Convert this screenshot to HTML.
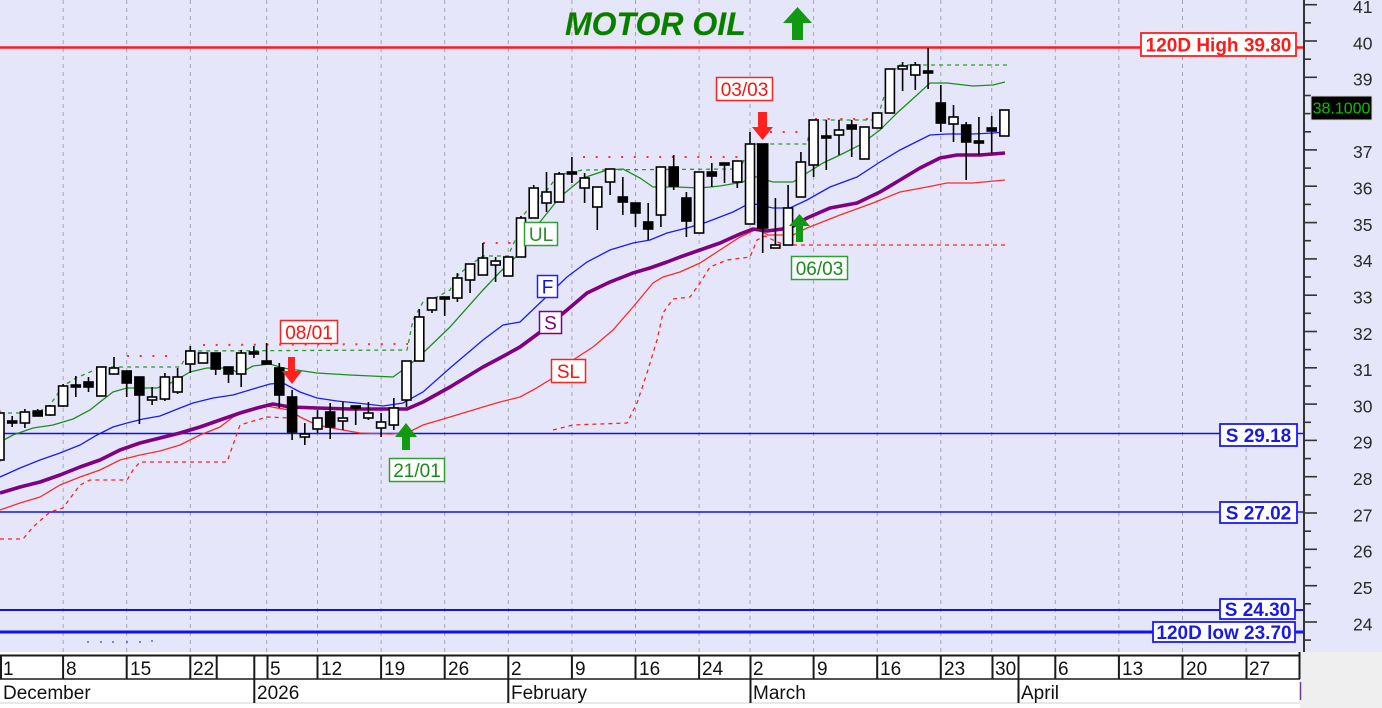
<!DOCTYPE html>
<html><head><meta charset="utf-8"><style>
html,body{margin:0;padding:0;background:#fff;}
body{width:1382px;height:708px;overflow:hidden;}
svg{display:block;font-family:"Liberation Sans",Arial,sans-serif;}
.w{fill:#fff;stroke:#000;stroke-width:1.6}
.b{fill:#000;stroke:#000;stroke-width:1.6}
.k{stroke:#000;stroke-width:1.6}
</style></head><body>
<svg width="1382" height="708" viewBox="0 0 1382 708" xmlns="http://www.w3.org/2000/svg">
<rect x="0" y="0" width="1382" height="652" fill="#E6E6FA"/>
<rect x="0" y="652" width="1300" height="56" fill="#fff"/>
<rect x="1300" y="652" width="82" height="56" fill="#EFEFEF"/>

<!-- vertical grid -->
<g stroke="#A5A5B0" stroke-width="1" stroke-dasharray="4,4">
<line x1="63.1" y1="0" x2="63.1" y2="652"/><line x1="126.7" y1="0" x2="126.7" y2="652"/><line x1="190.3" y1="0" x2="190.3" y2="652"/><line x1="266.6" y1="0" x2="266.6" y2="652"/><line x1="317.5" y1="0" x2="317.5" y2="652"/><line x1="381.1" y1="0" x2="381.1" y2="652"/><line x1="444.7" y1="0" x2="444.7" y2="652"/><line x1="508.3" y1="0" x2="508.3" y2="652"/><line x1="571.9" y1="0" x2="571.9" y2="652"/><line x1="635.5" y1="0" x2="635.5" y2="652"/><line x1="699.1" y1="0" x2="699.1" y2="652"/><line x1="750" y1="0" x2="750" y2="652"/><line x1="813.6" y1="0" x2="813.6" y2="652"/><line x1="877.2" y1="0" x2="877.2" y2="652"/><line x1="940.8" y1="0" x2="940.8" y2="652"/><line x1="991.7" y1="0" x2="991.7" y2="652"/><line x1="1055.3" y1="0" x2="1055.3" y2="652"/><line x1="1118.9" y1="0" x2="1118.9" y2="652"/><line x1="1182.5" y1="0" x2="1182.5" y2="652"/><line x1="1246.1" y1="0" x2="1246.1" y2="652"/>
</g>

<!-- horizontal level lines -->
<line x1="0" y1="47.5" x2="1304" y2="47.5" stroke="#FF1A1A" stroke-width="2.5"/>
<line x1="0" y1="433.5" x2="1304" y2="433.5" stroke="#1010F0" stroke-width="1.5"/>
<line x1="0" y1="512" x2="1304" y2="512" stroke="#1010F0" stroke-width="1.5"/>
<line x1="0" y1="610" x2="1304" y2="610" stroke="#1010F0" stroke-width="2"/>
<line x1="0" y1="632" x2="1304" y2="632" stroke="#1010F0" stroke-width="3"/>
<g fill="#3030FF"><circle cx="88" cy="642" r="0.9"/><circle cx="101" cy="642" r="0.9"/><circle cx="113" cy="642" r="0.9"/><circle cx="127" cy="642" r="0.9"/><circle cx="140" cy="642" r="0.9"/><circle cx="152" cy="641" r="0.9"/></g>

<!-- red dashed trailing -->
<g fill="none" stroke="#FF2020" stroke-width="1.3" stroke-dasharray="4,4">
<polyline points="0,539 23,539 33,527 50,512 63,508 80,485 90,480 127,480 133,470 140,462 227,462 240,425 267,417 290,418"/>
<polyline points="553,430 573,425 627,423 637,403 647,373 657,340 663,313 673,299 690,297 700,283 710,267 727,260 750,257 757,240 765,236 775,241 785,245 1007,245"/>
</g>
<!-- red dotted resistance -->
<g fill="none" stroke="#FF3030" stroke-width="2" stroke-dasharray="2,10.7">
<line x1="127" y1="356" x2="178" y2="356"/>
<line x1="203" y1="345" x2="408" y2="344"/>
<line x1="483" y1="243" x2="511" y2="243"/>
<line x1="583" y1="157" x2="741" y2="157"/>
<line x1="770" y1="132" x2="801" y2="132"/>
<line x1="815" y1="119" x2="874" y2="119"/>
</g>
<!-- green dashed upper -->
<polyline fill="none" stroke="#2A9A2A" stroke-width="1.3" stroke-dasharray="4,4" points="0,413 37,413 50,405 63,386 76,378 90,372 101,367 180,367 190,351 407,350 413,320 423,302 437,297 450,290 457,276 470,265 483,256 508,256 517,236 522,217 533,203 547,190 557,177 567,173 583,170 740,169 747,153 752,144 807,144 812,120 873,120 880,110 886,90 892,72 900,65 1007,65"/>

<!-- SL red -->
<polyline fill="none" stroke="#FF2A2A" stroke-width="1.3" points="0,510 20,503 40,497 60,485 80,477 100,470 120,460 140,455 160,451 180,445 200,435 220,427 233,417 247,410 267,406 277,408 290,410 300,417 317,425 337,429 360,433 390,434 407,433 423,425 450,417 483,407 500,402 520,397 533,390 553,378 573,360 593,347 613,330 633,307 653,283 663,277 680,272 700,263 720,250 740,237 757,229 768,235 793,235 807,228 840,215 873,203 900,192 927,187 947,183 973,183 1005,180"/>
<!-- S purple -->
<polyline fill="none" stroke="#800080" stroke-width="3.6" stroke-linejoin="round" points="0,493 20,487 40,482 60,475 80,467 100,460 120,450 140,443 160,438 180,433 200,427 220,420 240,413 257,408 273,404 290,407 317,408 350,409 407,409 423,402 450,387 483,367 500,358 520,347 543,330 567,310 587,293 610,282 633,273 650,268 667,262 680,257 700,250 720,243 740,234 753,229 767,231 790,228 807,218 830,208 857,203 880,192 900,180 920,168 940,158 957,155 980,155 1005,153"/>
<!-- F blue -->
<polyline fill="none" stroke="#1A1AFF" stroke-width="1.3" points="0,477 20,468 40,460 60,453 80,445 97,435 113,427 127,423 143,419 160,416 180,408 193,403 213,398 233,395 253,389 270,384 283,383 300,392 317,398 337,401 357,403 383,406 403,403 423,392 450,368 483,340 503,325 520,322 543,300 567,277 587,262 610,250 633,243 650,240 667,233 687,228 707,222 733,212 750,203 773,208 790,208 807,200 830,187 857,177 880,162 900,150 920,140 930,135 947,134 973,134 993,133 1005,132"/>
<!-- green MA -->
<polyline fill="none" stroke="#1E8C1E" stroke-width="1.3" points="0,442 13,435 33,428 53,425 73,419 90,410 100,402 113,392 127,388 157,388 173,382 190,372 207,368 227,368 240,373 253,366 270,364 283,368 317,373 350,375 393,377 407,367 423,353 450,327 483,290 500,272 520,253 540,222 560,197 583,178 607,170 623,169 640,178 653,187 677,187 700,188 720,186 743,182 753,176 773,182 793,182 807,173 823,163 840,155 860,145 880,130 897,113 917,95 930,83 947,83 973,86 993,85 1005,82"/>

<!-- candles -->
<g>
<line class="k" x1="-0.5" y1="410" x2="-0.5" y2="462"/><rect class="w" x="-5" y="413" width="9" height="47"/>
<line class="k" x1="12.2" y1="416" x2="12.2" y2="427"/><rect class="b" x="7.7" y="421" width="9" height="2"/>
<line class="k" x1="24.9" y1="409" x2="24.9" y2="428"/><rect class="w" x="20.4" y="412" width="9" height="11"/>
<line class="k" x1="37.7" y1="409" x2="37.7" y2="416"/><rect class="b" x="33.2" y="411" width="9" height="5"/>
<line class="k" x1="50.4" y1="405" x2="50.4" y2="416"/><rect class="w" x="45.9" y="406" width="9" height="9"/>
<line class="k" x1="63.1" y1="384" x2="63.1" y2="407"/><rect class="w" x="58.6" y="386" width="9" height="20"/>
<line class="k" x1="75.8" y1="376" x2="75.8" y2="397"/><rect class="b" x="71.3" y="385" width="9" height="2"/>
<line class="k" x1="88.5" y1="377" x2="88.5" y2="392"/><rect class="b" x="84" y="382" width="9" height="5"/>
<line class="k" x1="101.3" y1="367" x2="101.3" y2="396"/><rect class="w" x="96.8" y="367" width="9" height="29"/>
<line class="k" x1="114" y1="357" x2="114" y2="374"/><rect class="w" x="109.5" y="368" width="9" height="6"/>
<line class="k" x1="126.7" y1="371" x2="126.7" y2="397"/><rect class="b" x="122.2" y="371" width="9" height="12"/>
<line class="k" x1="139.4" y1="377" x2="139.4" y2="424"/><rect class="b" x="134.9" y="377" width="9" height="18"/>
<line class="k" x1="152.1" y1="387" x2="152.1" y2="405"/><rect class="w" x="147.6" y="397" width="9" height="3"/>
<line class="k" x1="164.9" y1="373" x2="164.9" y2="401"/><rect class="w" x="160.4" y="377" width="9" height="22"/>
<line class="k" x1="177.6" y1="368" x2="177.6" y2="394"/><rect class="w" x="173.1" y="377" width="9" height="15"/>
<line class="k" x1="190.3" y1="346" x2="190.3" y2="373"/><rect class="w" x="185.8" y="351" width="9" height="13"/>
<line class="k" x1="203" y1="353" x2="203" y2="363"/><rect class="w" x="198.5" y="353" width="9" height="10"/>
<line class="k" x1="215.7" y1="353" x2="215.7" y2="375"/><rect class="b" x="211.2" y="353" width="9" height="16"/>
<line class="k" x1="228.5" y1="367" x2="228.5" y2="383"/><rect class="b" x="224" y="367" width="9" height="7"/>
<line class="k" x1="241.2" y1="350" x2="241.2" y2="387"/><rect class="w" x="236.7" y="353" width="9" height="21"/>
<line class="k" x1="253.9" y1="346" x2="253.9" y2="358"/><rect class="b" x="249.4" y="352" width="9" height="2"/>
<line class="k" x1="266.6" y1="343" x2="266.6" y2="364"/><rect class="b" x="262.1" y="361" width="9" height="3"/>
<line class="k" x1="279.3" y1="363" x2="279.3" y2="408"/><rect class="b" x="274.8" y="368" width="9" height="27"/>
<line class="k" x1="292.1" y1="390" x2="292.1" y2="440"/><rect class="b" x="287.6" y="397" width="9" height="35"/>
<line class="k" x1="304.8" y1="423" x2="304.8" y2="445"/><rect class="w" x="300.3" y="434" width="9" height="3"/>
<line class="k" x1="317.5" y1="410" x2="317.5" y2="433"/><rect class="w" x="313" y="418" width="9" height="11"/>
<line class="k" x1="330.2" y1="403" x2="330.2" y2="439"/><rect class="b" x="325.7" y="412" width="9" height="15"/>
<line class="k" x1="342.9" y1="402" x2="342.9" y2="430"/><rect class="w" x="338.4" y="418" width="9" height="3"/>
<line class="k" x1="355.7" y1="406" x2="355.7" y2="425"/><rect class="b" x="351.2" y="406" width="9" height="2"/>
<line class="k" x1="368.4" y1="402" x2="368.4" y2="420"/><rect class="w" x="363.9" y="413" width="9" height="5"/>
<line class="k" x1="381.1" y1="413" x2="381.1" y2="437"/><rect class="w" x="376.6" y="422" width="9" height="6"/>
<line class="k" x1="393.8" y1="398" x2="393.8" y2="430"/><rect class="w" x="389.3" y="408" width="9" height="17"/>
<line class="k" x1="406.5" y1="361" x2="406.5" y2="407"/><rect class="w" x="402" y="361" width="9" height="39"/>
<line class="k" x1="419.3" y1="309" x2="419.3" y2="361"/><rect class="w" x="414.8" y="317" width="9" height="44"/>
<line class="k" x1="432" y1="298" x2="432" y2="313"/><rect class="w" x="427.5" y="298" width="9" height="12"/>
<line class="k" x1="444.7" y1="297" x2="444.7" y2="316"/><rect class="b" x="440.2" y="297" width="9" height="2"/>
<line class="k" x1="457.4" y1="273" x2="457.4" y2="302"/><rect class="w" x="452.9" y="278" width="9" height="20"/>
<line class="k" x1="470.1" y1="264" x2="470.1" y2="293"/><rect class="w" x="465.6" y="264" width="9" height="16"/>
<line class="k" x1="482.9" y1="243" x2="482.9" y2="275"/><rect class="w" x="478.4" y="258" width="9" height="17"/>
<line class="k" x1="495.6" y1="257" x2="495.6" y2="282"/><rect class="w" x="491.1" y="261" width="9" height="4"/>
<line class="k" x1="508.3" y1="257" x2="508.3" y2="276"/><rect class="w" x="503.8" y="257" width="9" height="19"/>
<line class="k" x1="521" y1="216" x2="521" y2="257"/><rect class="w" x="516.5" y="218" width="9" height="39"/>
<line class="k" x1="533.7" y1="185" x2="533.7" y2="218"/><rect class="w" x="529.2" y="188" width="9" height="30"/>
<line class="k" x1="546.5" y1="172" x2="546.5" y2="212"/><rect class="w" x="542" y="192" width="9" height="11"/>
<line class="k" x1="559.2" y1="172" x2="559.2" y2="202"/><rect class="w" x="554.7" y="174" width="9" height="28"/>
<line class="k" x1="571.9" y1="157" x2="571.9" y2="183"/><rect class="b" x="567.4" y="172" width="9" height="2"/>
<line class="k" x1="584.6" y1="173" x2="584.6" y2="203"/><rect class="w" x="580.1" y="178" width="9" height="10"/>
<line class="k" x1="597.3" y1="187" x2="597.3" y2="230"/><rect class="w" x="592.8" y="187" width="9" height="20"/>
<line class="k" x1="610.1" y1="169" x2="610.1" y2="195"/><rect class="w" x="605.6" y="169" width="9" height="13"/>
<line class="k" x1="622.8" y1="177" x2="622.8" y2="215"/><rect class="b" x="618.3" y="197" width="9" height="5"/>
<line class="k" x1="635.5" y1="203" x2="635.5" y2="227"/><rect class="b" x="631" y="203" width="9" height="10"/>
<line class="k" x1="648.2" y1="203" x2="648.2" y2="240"/><rect class="b" x="643.7" y="222" width="9" height="7"/>
<line class="k" x1="660.9" y1="167" x2="660.9" y2="227"/><rect class="w" x="656.4" y="167" width="9" height="48"/>
<line class="k" x1="673.7" y1="155" x2="673.7" y2="190"/><rect class="b" x="669.2" y="167" width="9" height="19"/>
<line class="k" x1="686.4" y1="192" x2="686.4" y2="237"/><rect class="b" x="681.9" y="198" width="9" height="23"/>
<line class="k" x1="699.1" y1="172" x2="699.1" y2="233"/><rect class="w" x="694.6" y="172" width="9" height="61"/>
<line class="k" x1="711.8" y1="163" x2="711.8" y2="187"/><rect class="b" x="707.3" y="172" width="9" height="4"/>
<line class="k" x1="724.5" y1="163" x2="724.5" y2="183"/><rect class="b" x="720" y="163" width="9" height="2"/>
<line class="k" x1="737.3" y1="161" x2="737.3" y2="188"/><rect class="w" x="732.8" y="161" width="9" height="21"/>
<line class="k" x1="750" y1="132" x2="750" y2="224"/><rect class="w" x="745.5" y="144" width="9" height="80"/>
<line class="k" x1="762.7" y1="144" x2="762.7" y2="253"/><rect class="b" x="757.7" y="144" width="10" height="84"/>
<line class="k" x1="775.4" y1="198" x2="775.4" y2="248"/><rect class="w" x="770.9" y="245" width="9" height="3"/>
<line class="k" x1="788.1" y1="185" x2="788.1" y2="245"/><rect class="w" x="783.6" y="208" width="9" height="37"/>
<line class="k" x1="800.9" y1="152" x2="800.9" y2="197"/><rect class="w" x="796.4" y="162" width="9" height="35"/>
<line class="k" x1="813.6" y1="120" x2="813.6" y2="177"/><rect class="w" x="809.1" y="120" width="9" height="45"/>
<line class="k" x1="826.3" y1="120" x2="826.3" y2="170"/><rect class="b" x="821.8" y="136" width="9" height="2"/>
<line class="k" x1="839" y1="120" x2="839" y2="155"/><rect class="w" x="834.5" y="130" width="9" height="5"/>
<line class="k" x1="851.7" y1="120" x2="851.7" y2="157"/><rect class="b" x="847.2" y="125" width="9" height="4"/>
<line class="k" x1="864.5" y1="127" x2="864.5" y2="159"/><rect class="w" x="860" y="127" width="9" height="32"/>
<line class="k" x1="877.2" y1="113" x2="877.2" y2="128"/><rect class="w" x="872.7" y="113" width="9" height="15"/>
<line class="k" x1="889.9" y1="69" x2="889.9" y2="113"/><rect class="w" x="885.4" y="69" width="9" height="44"/>
<line class="k" x1="902.6" y1="62" x2="902.6" y2="91"/><rect class="w" x="898.1" y="66" width="9" height="3"/>
<line class="k" x1="915.3" y1="62" x2="915.3" y2="90"/><rect class="w" x="910.8" y="65" width="9" height="10"/>
<line class="k" x1="928.1" y1="48" x2="928.1" y2="89"/><rect class="b" x="923.6" y="71" width="9" height="2"/>
<line class="k" x1="940.8" y1="85" x2="940.8" y2="132"/><rect class="b" x="936.3" y="103" width="9" height="20"/>
<line class="k" x1="953.5" y1="105" x2="953.5" y2="142"/><rect class="w" x="949" y="117" width="9" height="7"/>
<line class="k" x1="966.2" y1="122" x2="966.2" y2="180"/><rect class="b" x="961.7" y="125" width="9" height="17"/>
<line class="k" x1="978.9" y1="117" x2="978.9" y2="155"/><rect class="b" x="974.4" y="141" width="9" height="2"/>
<line class="k" x1="991.7" y1="116" x2="991.7" y2="153"/><rect class="b" x="987.2" y="128" width="9" height="3"/>
<line class="k" x1="1004.4" y1="110" x2="1004.4" y2="136"/><rect class="w" x="999.9" y="110" width="9" height="26"/>
</g>

<!-- chart labels -->
<g font-size="19" text-anchor="middle">
<rect x="524.5" y="222.5" width="33" height="23" fill="#fff" stroke="#30A030" stroke-width="1.5"/>
<text x="541" y="241" fill="#2E8B2E">UL</text>
<rect x="537.5" y="275.5" width="20" height="22" fill="#fff" stroke="#2020FF" stroke-width="1.5"/>
<text x="547.5" y="293.5" fill="#1515E0">F</text>
<rect x="539.5" y="311.5" width="22" height="22" fill="#fff" stroke="#800080" stroke-width="1.5"/>
<text x="550.5" y="329.5" fill="#800080">S</text>
<rect x="551.5" y="359.5" width="34" height="23" fill="#fff" stroke="#FF2020" stroke-width="1.5"/>
<text x="568.5" y="378" fill="#FF1010">SL</text>
<rect x="280.5" y="320.5" width="57" height="23" fill="#fff" stroke="#FF2020" stroke-width="1.5"/>
<text x="309" y="339" fill="#FF1010">08/01</text>
<rect x="389.5" y="458.5" width="55" height="23" fill="#fff" stroke="#30A030" stroke-width="1.5"/>
<text x="417" y="477" fill="#1A8A1A">21/01</text>
<rect x="716.5" y="77.5" width="56" height="23" fill="#fff" stroke="#FF2020" stroke-width="1.5"/>
<text x="744.5" y="96" fill="#FF1010">03/03</text>
<rect x="791.5" y="256.5" width="56" height="23" fill="#fff" stroke="#30A030" stroke-width="1.5"/>
<text x="819.5" y="275" fill="#1A8A1A">06/03</text>
</g>
<!-- arrows -->
<polygon points="288,357 295,357 295,371 302,371 292,384 282,371 288,371" fill="#FF2020"/>
<polygon points="406,423 417,437 410,437 410,450 402,450 402,437 395,437" fill="#119911"/>
<polygon points="758,112 767,112 767,127 773,127 762.5,140 752,127 758,127" fill="#FF2020"/>
<polygon points="799.5,214 810,226 803,226 803,242 796,242 796,226 789,226" fill="#119911"/>
<polygon points="797.5,7 812,23 803,23 803,40 792,40 792,23 783,23" fill="#119911"/>

<!-- title -->
<text x="565" y="35" font-size="32" font-weight="bold" font-style="italic" fill="#008000" stroke="#8a9a20" stroke-width="0.3">MOTOR OIL</text>

<!-- right side level labels -->
<g font-size="19" font-weight="bold" text-anchor="middle">
<rect x="1141" y="33" width="155" height="23" fill="#fff" stroke="#FF2020" stroke-width="1.8"/>
<text x="1218.5" y="51.5" fill="#FF1A1A">120D High 39.80</text>
<line x1="1296" y1="47.5" x2="1304" y2="47.5" stroke="#FF1A1A" stroke-width="2"/>
<rect x="1220" y="424" width="77" height="22" fill="#fff" stroke="#1A1AFF" stroke-width="1.8"/>
<text x="1258.5" y="442" fill="#1A1AE8">S 29.18</text>
<rect x="1220" y="502" width="77" height="21" fill="#fff" stroke="#1A1AFF" stroke-width="1.8"/>
<text x="1258.5" y="519.5" fill="#1A1AE8">S 27.02</text>
<rect x="1220" y="599" width="75" height="20" fill="#fff" stroke="#1A1AFF" stroke-width="1.8"/>
<text x="1257.5" y="616" fill="#1A1AE8">S 24.30</text>
<rect x="1153" y="622" width="142" height="20" fill="#fff" stroke="#1A1AFF" stroke-width="1.8"/>
<text x="1224" y="639" fill="#1A1AE8">120D low 23.70</text>
<line x1="1295" y1="610" x2="1304" y2="610" stroke="#1A1AFF" stroke-width="1.5"/>
<line x1="1295" y1="632" x2="1304" y2="632" stroke="#1A1AFF" stroke-width="1.5"/>
</g>

<!-- right axis -->
<line x1="1304" y1="0" x2="1304" y2="652" stroke="#333" stroke-width="2"/>
<g stroke="#333" stroke-width="1.6">
<line x1="1304" y1="4.7" x2="1317" y2="4.7"/><line x1="1304" y1="22.8" x2="1311" y2="22.8"/>
<line x1="1304" y1="41" x2="1317" y2="41"/><line x1="1304" y1="59.2" x2="1311" y2="59.2"/>
<line x1="1304" y1="77.3" x2="1317" y2="77.3"/><line x1="1304" y1="95.5" x2="1311" y2="95.5"/>
<line x1="1304" y1="113.6" x2="1317" y2="113.6"/><line x1="1304" y1="131.8" x2="1311" y2="131.8"/>
<line x1="1304" y1="149.9" x2="1317" y2="149.9"/><line x1="1304" y1="168.1" x2="1311" y2="168.1"/>
<line x1="1304" y1="186.2" x2="1317" y2="186.2"/><line x1="1304" y1="204.4" x2="1311" y2="204.4"/>
<line x1="1304" y1="222.6" x2="1317" y2="222.6"/><line x1="1304" y1="240.7" x2="1311" y2="240.7"/>
<line x1="1304" y1="258.9" x2="1317" y2="258.9"/><line x1="1304" y1="277" x2="1311" y2="277"/>
<line x1="1304" y1="295.2" x2="1317" y2="295.2"/><line x1="1304" y1="313.3" x2="1311" y2="313.3"/>
<line x1="1304" y1="331.5" x2="1317" y2="331.5"/><line x1="1304" y1="349.6" x2="1311" y2="349.6"/>
<line x1="1304" y1="367.8" x2="1317" y2="367.8"/><line x1="1304" y1="386" x2="1311" y2="386"/>
<line x1="1304" y1="404.1" x2="1317" y2="404.1"/><line x1="1304" y1="422.3" x2="1311" y2="422.3"/>
<line x1="1304" y1="440.4" x2="1317" y2="440.4"/><line x1="1304" y1="458.6" x2="1311" y2="458.6"/>
<line x1="1304" y1="476.7" x2="1317" y2="476.7"/><line x1="1304" y1="494.9" x2="1311" y2="494.9"/>
<line x1="1304" y1="513" x2="1317" y2="513"/><line x1="1304" y1="531.2" x2="1311" y2="531.2"/>
<line x1="1304" y1="549.3" x2="1317" y2="549.3"/><line x1="1304" y1="567.5" x2="1311" y2="567.5"/>
<line x1="1304" y1="585.7" x2="1317" y2="585.7"/><line x1="1304" y1="603.8" x2="1311" y2="603.8"/>
<line x1="1304" y1="622" x2="1317" y2="622"/><line x1="1304" y1="640.1" x2="1311" y2="640.1"/>
</g>
<g font-size="17.5" fill="#2A2A2A">
<text x="1353" y="13">41</text>
<text x="1353" y="49.3">40</text>
<text x="1353" y="85.6">39</text>
<text x="1353" y="158.2">37</text>
<text x="1353" y="194.5">36</text>
<text x="1353" y="230.9">35</text>
<text x="1353" y="267.2">34</text>
<text x="1353" y="303.5">33</text>
<text x="1353" y="339.8">32</text>
<text x="1353" y="376.1">31</text>
<text x="1353" y="412.4">30</text>
<text x="1353" y="448.7">29</text>
<text x="1353" y="485">28</text>
<text x="1353" y="521.3">27</text>
<text x="1353" y="557.6">26</text>
<text x="1353" y="594">25</text>
<text x="1353" y="630.3">24</text>
</g>
<rect x="1311" y="96" width="61" height="24" fill="#000" stroke="#d8d8d8" stroke-width="1"/>
<text x="1341.5" y="113.5" font-size="16" fill="#00C800" text-anchor="middle">38.1000</text>

<!-- bottom axis -->
<line x1="0" y1="703" x2="1300" y2="703" stroke="#d0d0d0" stroke-width="1"/>
<line x1="0" y1="655.5" x2="1300" y2="655.5" stroke="#1a1a1a" stroke-width="2"/>
<line x1="0" y1="679" x2="1300" y2="679" stroke="#1a1a1a" stroke-width="1.6"/>
<g stroke="#1a1a1a" stroke-width="2">
<line x1="1" y1="655" x2="1" y2="679"/><line x1="63.1" y1="655" x2="63.1" y2="679"/><line x1="126.7" y1="655" x2="126.7" y2="679"/><line x1="190.3" y1="655" x2="190.3" y2="679"/><line x1="216.7" y1="655" x2="216.7" y2="679"/><line x1="254.3" y1="655" x2="254.3" y2="679"/><line x1="267.5" y1="655" x2="267.5" y2="679"/><line x1="317.5" y1="655" x2="317.5" y2="679"/><line x1="381.1" y1="655" x2="381.1" y2="679"/><line x1="444.7" y1="655" x2="444.7" y2="679"/><line x1="508.3" y1="655" x2="508.3" y2="679"/><line x1="571.9" y1="655" x2="571.9" y2="679"/><line x1="635.5" y1="655" x2="635.5" y2="679"/><line x1="699.1" y1="655" x2="699.1" y2="679"/><line x1="750.5" y1="655" x2="750.5" y2="679"/><line x1="813.6" y1="655" x2="813.6" y2="679"/><line x1="877.2" y1="655" x2="877.2" y2="679"/><line x1="940.8" y1="655" x2="940.8" y2="679"/><line x1="992.5" y1="655" x2="992.5" y2="679"/><line x1="1018.5" y1="655" x2="1018.5" y2="679"/><line x1="1055.3" y1="655" x2="1055.3" y2="679"/><line x1="1118.9" y1="655" x2="1118.9" y2="679"/><line x1="1182.5" y1="655" x2="1182.5" y2="679"/><line x1="1246.5" y1="655" x2="1246.5" y2="679"/><line x1="1299.5" y1="652" x2="1299.5" y2="679"/>
<line x1="254.3" y1="679" x2="254.3" y2="703"/><line x1="508.3" y1="679" x2="508.3" y2="703"/><line x1="750.5" y1="679" x2="750.5" y2="703"/><line x1="1018.5" y1="679" x2="1018.5" y2="703"/>
</g>
<line x1="1300.5" y1="682" x2="1300.5" y2="700" stroke="#6a3a8a" stroke-width="1.5"/>
<g font-size="19" fill="#111">
<text x="3" y="675">1</text><text x="66" y="675">8</text><text x="130" y="675">15</text><text x="193" y="675">22</text>
<text x="270" y="675">5</text><text x="321" y="675">12</text><text x="384" y="675">19</text><text x="448" y="675">26</text>
<text x="511" y="675">2</text><text x="575" y="675">9</text><text x="639" y="675">16</text><text x="702" y="675">24</text>
<text x="753" y="675">2</text><text x="817" y="675">9</text><text x="880" y="675">16</text><text x="944" y="675">23</text>
<text x="995" y="675">30</text><text x="1058" y="675">6</text><text x="1122" y="675">13</text><text x="1186" y="675">20</text><text x="1249" y="675">27</text>
<text x="3" y="699">December</text><text x="257" y="699">2026</text><text x="511" y="699">February</text><text x="753" y="699">March</text><text x="1021" y="699">April</text>
</g>
</svg>
</body></html>
